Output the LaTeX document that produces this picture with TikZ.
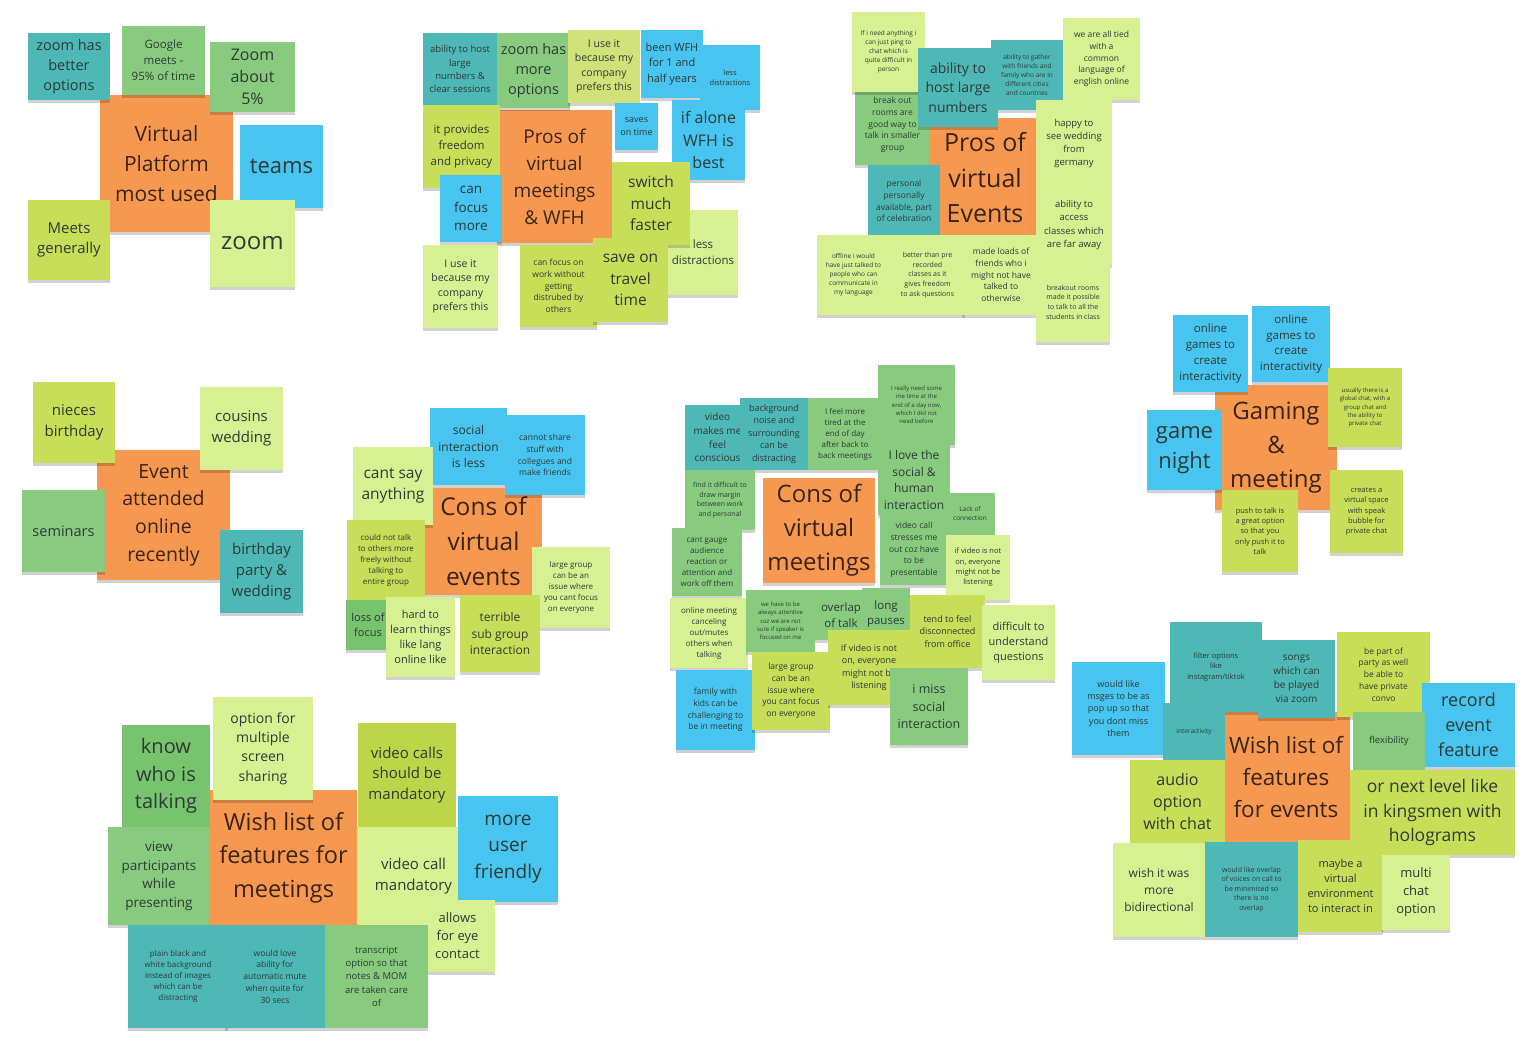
\documentclass[tikz,border=0pt]{standalone}
\usepackage{fontspec}
\setmainfont{Open Sans}
\usetikzlibrary{shadows}
\definecolor{or}{HTML}{F79850}
\definecolor{bl}{HTML}{47C5F0}
\definecolor{tl}{HTML}{4DB8B5}
\definecolor{gr}{HTML}{88CB7E}
\definecolor{dg}{HTML}{78C36E}
\definecolor{lm}{HTML}{C8DE58}
\definecolor{lmb}{HTML}{D2E27A}
\definecolor{ol}{HTML}{BDD549}
\definecolor{pl}{HTML}{D7F092}
\definecolor{txt}{HTML}{2D3A36}
\definecolor{otxt}{HTML}{3A2418}
\tikzset{
  note/.style={draw=none, inner sep=1pt, align=center, text=txt,
    drop shadow={shadow xshift=0pt, shadow yshift=-3pt, opacity=0.18, fill=black}},
}
\newcommand\note[8]{%
  \pgfmathsetmacro\nW{#4-#2}%
  \pgfmathsetmacro\nH{#5-#3}%
  \pgfmathsetmacro\nX{(#2+#4)/2}%
  \pgfmathsetmacro\nY{(#3+#5)/2}%
  \pgfmathsetmacro\nL{#7*1.38}%
  \node[note, fill=#6, minimum width=\nW pt, minimum height=\nH pt,
        font=\fontsize{#7}{\nL}\selectfont] (#1) at (\nX,\nY) {#8};}
\newcommand\onote[8]{%
  \pgfmathsetmacro\nW{#4-#2}%
  \pgfmathsetmacro\nH{#5-#3}%
  \pgfmathsetmacro\nX{(#2+#4)/2}%
  \pgfmathsetmacro\nY{(#3+#5)/2}%
  \pgfmathsetmacro\nL{#7*1.42}%
  \node[note, fill=#6, text=otxt, minimum width=\nW pt, minimum height=\nH pt,
        font=\fontsize{#7}{\nL}\selectfont] (#1) at (\nX,\nY) {#8};}
\begin{document}
\begin{tikzpicture}[x=1pt, y=-1pt]
\fill[white] (0,0) rectangle (1536,1056);
\useasboundingbox (0,0) rectangle (1536,1056);

% ---------- Virtual Platform most used
\onote{vp}{100}{95}{233}{232}{or}{21}{Virtual\\Platform\\most used}
\note{vp1}{28}{33}{110}{100}{tl}{14.5}{zoom has\\better\\options}
\note{vp2}{122}{26}{205}{95}{gr}{11.5}{Google\\meets -\\95\% of time}
\note{vp3}{210}{42}{295}{112}{gr}{16}{Zoom\\about\\5\%}
\note{vp4}{240}{125}{323}{208}{bl}{22}{teams}
\note{vp5}{28}{200}{110}{280}{lm}{15}{Meets\\generally}
\note{vp6}{210}{200}{295}{287}{pl}{24}{zoom}

% ---------- Pros of virtual meetings & WFH
\onote{pm}{497}{110}{612}{243}{or}{19}{Pros of\\virtual\\meetings\\\& WFH}
\note{pm1}{423}{33}{497}{105}{tl}{9.5}{ability to host\\large\\numbers \&\\clear sessions}
\note{pm2}{497}{33}{570}{108}{gr}{14.5}{zoom has\\more\\options}
\note{pm3}{568}{30}{640}{103}{lmb}{10.5}{I use it\\because my\\company\\prefers this}
\note{pm4}{641}{30}{703}{98}{bl}{11}{been WFH\\for 1 and\\half years}
\note{pm5}{700}{45}{760}{110}{bl}{7.5}{less\\distractions}
\note{pm6}{423}{105}{500}{188}{lm}{11.5}{it provides\\freedom\\and privacy}
\note{pm7}{615}{103}{658}{150}{bl}{9}{saves\\on time}
\note{pm8}{672}{100}{745}{180}{bl}{16}{if alone\\WFH is\\best}
\note{pm9}{440}{175}{502}{242}{bl}{13.5}{can\\focus\\more}
\note{pm11}{668}{210}{738}{295}{pl}{11.5}{less\\distractions}
\note{pm10}{612}{162}{690}{245}{lm}{15.5}{switch\\much\\faster}
\note{pm12}{423}{245}{498}{328}{pl}{10.5}{I use it\\because my\\company\\prefers this}
\note{pm13}{520}{245}{597}{327}{lm}{8.5}{can focus on\\work without\\getting\\distrubed by\\others}
\note{pm14}{593}{238}{668}{322}{lm}{15.5}{save on\\travel\\time}

% ---------- Pros of virtual Events
\onote{pe}{930}{118}{1040}{238}{or}{25}{Pros of\\virtual\\Events}
\note{pe1}{855}{85}{930}{165}{gr}{8.5}{break out\\rooms are\\good way to\\talk in smaller\\group}
\note{pe2}{852}{12}{925}{92}{pl}{6.5}{If i need anything i\\can just ping to\\chat which is\\quite difficult in\\person}
\note{pe3}{991}{40}{1063}{110}{tl}{6.5}{ability to gather\\with friends and\\family who are in\\different cities\\and countries}
\note{pe4}{918}{48}{998}{127}{tl}{14}{ability to\\host large\\numbers}
\note{pe5}{1063}{18}{1140}{100}{pl}{8.5}{we are all tied\\with a\\common\\language of\\english online}
\note{pe6}{1036}{100}{1112}{187}{pl}{9.5}{happy to\\see wedding\\from\\germany}
\note{pe7}{868}{165}{940}{237}{tl}{8.5}{personal\\personally\\available, part\\of celebration}
\note{pe8}{1036}{185}{1112}{265}{pl}{9.5}{ability to\\access\\classes which\\are far away}
\note{pe9}{817}{235}{890}{315}{pl}{6.5}{offline i would\\have just talked to\\people who can\\communicate in\\my language}
\note{pe10}{890}{235}{965}{315}{pl}{7}{better than pre\\recorded\\classes as it\\gives freedom\\to ask questions}
\note{pe11}{962}{235}{1040}{315}{pl}{8.5}{made loads of\\friends who i\\might not have\\talked to\\otherwise}
\note{pe12}{1036}{262}{1110}{342}{pl}{7}{breakout rooms\\made it possible\\to talk to all the\\students in class}

% ---------- Gaming & meeting
\onote{gm}{1215}{385}{1337}{510}{or}{24}{Gaming\\\&\\meeting}
\note{gm1}{1173}{315}{1248}{392}{bl}{11.5}{online\\games to\\create\\interactivity}
\note{gm2}{1252}{306}{1330}{382}{bl}{11.5}{online\\games to\\create\\interactivity}
\note{gm3}{1328}{368}{1402}{447}{lm}{6}{usually there is a\\global chat, with a\\group chat and\\the ability to\\private chat}
\note{gm4}{1147}{410}{1222}{490}{bl}{22}{game\\night}
\note{gm5}{1222}{490}{1298}{572}{lm}{7.5}{push to talk is\\a great option\\so that you\\only push it to\\talk}
\note{gm6}{1330}{470}{1403}{553}{lm}{7.5}{creates a\\virtual space\\with speak\\bubble for\\private chat}

% ---------- Event attended online recently
\onote{ea}{97}{450}{230}{580}{or}{19.5}{Event\\attended\\online\\recently}
\note{ea1}{33}{382}{115}{463}{lm}{15}{nieces\\birthday}
\note{ea2}{200}{387}{283}{470}{pl}{15}{cousins\\wedding}
\note{ea3}{22}{490}{105}{572}{gr}{14.5}{seminars}
\note{ea4}{220}{530}{303}{613}{tl}{15}{birthday\\party \&\\wedding}

% ---------- Cons of virtual events
\onote{ce}{425}{488}{542}{595}{or}{24.5}{Cons of\\virtual\\events}
\note{ce1}{430}{408}{507}{485}{bl}{12}{social\\interaction\\is less}
\note{ce2}{505}{415}{585}{495}{bl}{8.5}{cannot share\\stuff with\\collegues and\\make friends}
\note{ce3}{353}{447}{433}{525}{pl}{15.5}{cant say\\anything}
\note{ce4}{347}{520}{425}{600}{lm}{8}{could not talk\\to others more\\freely without\\talking to\\entire group}
\note{ce5}{532}{547}{610}{628}{pl}{8}{large group\\can be an\\issue where\\you cant focus\\on everyone}
\note{ce6}{346}{600}{390}{650}{dg}{11}{loss of\\focus}
\note{ce7}{386}{597}{455}{677}{pl}{11}{hard to\\learn things\\like lang\\online like}
\note{ce8}{460}{595}{540}{672}{lm}{12}{terrible\\sub group\\interaction}

% ---------- Cons of virtual meetings
\onote{cm}{763}{478}{875}{583}{or}{24}{Cons of\\virtual\\meetings}
\note{cm1}{685}{405}{750}{470}{tl}{10}{video\\makes me\\feel\\conscious}
\note{cm2}{740}{398}{808}{470}{tl}{9}{background\\noise and\\surrounding\\can be\\distracting}
\note{cm3}{808}{398}{882}{470}{gr}{8}{I feel more\\tired at the\\end of day\\after back to\\back meetings}
\note{cm4}{878}{365}{955}{445}{gr}{6}{I really need some\\me time at the\\end of a day now,\\which I did not\\need before}
\note{cm5}{685}{470}{755}{530}{gr}{7}{find it difficult to\\draw margin\\between work\\and personal}
\note{cm6}{878}{445}{950}{515}{gr}{12}{I love the\\social \&\\human\\interaction}
\note{cm7}{945}{493}{995}{535}{gr}{6.5}{Lack of\\connection}
\note{cm8}{880}{515}{948}{585}{gr}{8.5}{video call\\stresses me\\out coz have\\to be\\presentable}
\note{cm9}{946}{535}{1010}{600}{pl}{7.5}{if video is not\\on, everyone\\might not be\\listening}
\note{cm10}{672}{528}{742}{596}{gr}{8}{cant gauge\\audience\\reaction or\\attention and\\work off them}
\note{cm11}{670}{598}{748}{668}{pl}{8}{online meeting\\canceling\\out/mutes\\others when\\talking}
\note{cm12}{746}{590}{815}{652}{gr}{6}{we have to be\\always attentive\\coz we are not\\sure if speaker is\\focused on me}
\note{cm13}{815}{590}{867}{640}{gr}{11.5}{overlap\\of talk}
\note{cm14}{862}{588}{910}{640}{gr}{11.5}{long\\pauses}
\note{cm15}{910}{595}{985}{668}{lm}{9}{tend to feel\\disconnected\\from office}
\note{cm16}{982}{605}{1055}{680}{pl}{11}{difficult to\\understand\\questions}
\note{cm17}{676}{670}{755}{750}{bl}{8.5}{family with\\kids can be\\challenging to\\be in meeting}
\note{cm18}{752}{652}{830}{730}{lm}{8.5}{large group\\can be an\\issue where\\you cant focus\\on everyone}
\note{cm19}{828}{630}{910}{705}{lm}{9}{If video is not\\on, everyone\\might not be\\listening}
\note{cm20}{890}{668}{968}{745}{gr}{12.5}{i miss\\social\\interaction}

% ---------- Wish list of features for meetings
\onote{wm}{210}{790}{357}{925}{or}{23.5}{Wish list of\\features for\\meetings}
\note{wm1}{122}{725}{210}{827}{dg}{20}{know\\who is\\talking}
\note{wm2}{213}{697}{313}{800}{pl}{14}{option for\\multiple\\screen\\sharing}
\note{wm3}{358}{723}{456}{827}{ol}{15}{video calls\\should be\\mandatory}
\note{wm4}{108}{827}{210}{925}{gr}{13.5}{view\\participants\\while\\presenting}
\note{wm5}{357}{827}{470}{925}{pl}{15}{video call\\mandatory}
\note{wm6}{458}{796}{558}{902}{bl}{19}{more\\user\\friendly}
\note{wm7}{420}{900}{495}{972}{pl}{13}{allows\\for eye\\contact}
\note{wm8}{128}{925}{228}{1028}{tl}{8}{plain black and\\white background\\instead of images\\which can be\\distracting}
\note{wm9}{225}{925}{325}{1028}{tl}{8.5}{would love\\ability for\\automatic mute\\when quite for\\30 secs}
\note{wm10}{325}{925}{428}{1028}{gr}{9.5}{transcript\\option so that\\notes \& MOM\\are taken care\\of}

% ---------- Wish list of features for events
\onote{we}{1222}{712}{1350}{842}{or}{22.5}{Wish list of\\features\\for events}
\note{we1}{1072}{662}{1165}{755}{bl}{9}{would like\\msges to be as\\pop up so that\\you dont miss\\them}
\note{we2}{1170}{622}{1262}{712}{tl}{7.5}{filter options\\like\\instagram/tiktok}
\note{we3}{1163}{703}{1225}{760}{tl}{6.5}{interactivity}
\note{we4}{1258}{640}{1335}{718}{tl}{10}{songs\\which can\\be played\\via zoom}
\note{we5}{1337}{632}{1430}{717}{lm}{8.5}{be part of\\party as well\\be able to\\have private\\convo}
\note{we6}{1422}{683}{1515}{767}{bl}{18}{record\\event\\feature}
\note{we7}{1353}{712}{1425}{770}{gr}{9.5}{flexibility}
\note{we8}{1130}{760}{1225}{843}{lm}{16}{audio\\option\\with chat}
\note{we9}{1350}{770}{1515}{855}{lm}{17.5}{or next level like\\in kingsmen with\\holograms}
\note{we10}{1113}{843}{1205}{937}{pl}{12}{wish it was\\more\\bidirectional}
\note{we11}{1205}{842}{1298}{937}{tl}{7}{would like overlap\\of voices on call to\\be minimised so\\there is no\\overlap}
\note{we12}{1298}{840}{1383}{932}{lm}{11}{maybe a\\virtual\\environment\\to interact in}
\note{we13}{1382}{855}{1450}{930}{pl}{13}{multi\\chat\\option}
\end{tikzpicture}
\end{document}
